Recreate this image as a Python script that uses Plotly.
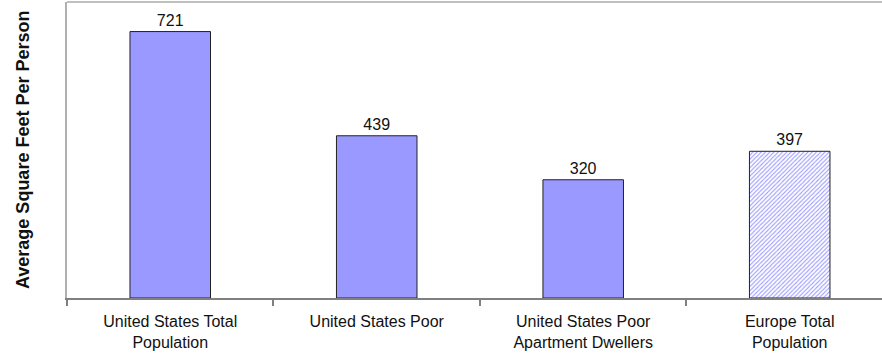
import plotly.graph_objects as go

# Average dwelling space per person, square feet
categories = [
    "United States Total<br>Population",
    "United States Poor",
    "United States Poor<br>Apartment Dwellers",
    "Europe Total<br>Population",
]
values = [721, 439, 320, 397]
bar_patterns = ["", "", "", "/"]
BAR_BLUE = "#9999ff"

FONT = "Liberation Sans, Arial, sans-serif"

fig = go.Figure(
    go.Bar(
        x=categories,
        y=values,
        width=0.39,
        marker=dict(
            color=BAR_BLUE,
            line=dict(color="#222222", width=1),
            pattern=dict(
                shape=bar_patterns,
                fillmode="replace",
                fgcolor=["#9a9aff"] * len(values),
                bgcolor=["#ffffff"] * len(values),
                size=3,
                solidity=0.35,
            ),
        ),
        text=[str(v) for v in values],
        textposition="outside",
        textfont=dict(family=FONT, size=16, color="#111111"),
        cliponaxis=False,
    )
)

fig.update_layout(
    width=882,
    height=360,
    margin=dict(l=67, r=0, t=2, b=62),
    paper_bgcolor="white",
    plot_bgcolor="white",
    showlegend=False,
    font=dict(family=FONT, size=16, color="#111111"),
    xaxis=dict(
        type="category",
        range=[-0.5, 3.447],
        showline=True,
        linecolor="#808080",
        linewidth=1.5,
        ticks="outside",
        tickson="boundaries",
        ticklen=6,
        tickcolor="#808080",
        tickwidth=1.5,
        showgrid=False,
        ticklabelstandoff=8,
        tickfont=dict(family=FONT, size=16, color="#111111"),
    ),
    yaxis=dict(
        range=[0, 801],
        showline=True,
        linecolor="#b0b0b0",
        linewidth=1.5,
        showgrid=False,
        showticklabels=False,
        ticks="",
        zeroline=False,
    ),
    shapes=[
        dict(
            type="line", xref="paper", yref="paper",
            x0=0, x1=1, y0=1, y1=1,
            line=dict(color="#c0c0c0", width=2),
        )
    ],
    annotations=[
        dict(
            text="<b>Average Square Feet Per Person</b>",
            xref="paper", yref="paper",
            x=0, y=0.5, xshift=-56,
            textangle=-90,
            showarrow=False,
            font=dict(family=FONT, size=18, color="#111111"),
        )
    ],
)

fig.write_html("out.html")
